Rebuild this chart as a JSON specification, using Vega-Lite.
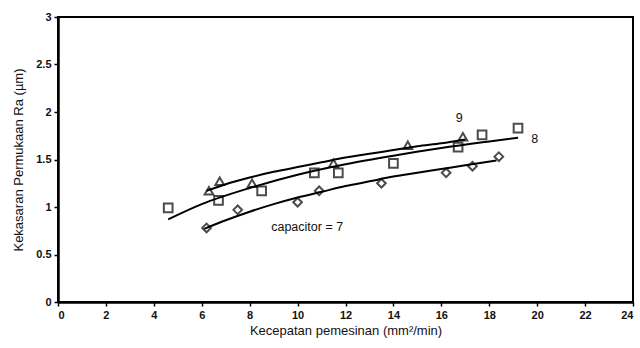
{
  "$schema": "https://vega.github.io/schema/vega-lite/v6.json",
  "width": 575,
  "height": 285,
  "autosize": {"type": "none"},
  "padding": {"left": 58, "top": 17, "right": 7, "bottom": 46},
  "background": "white",
  "config": {
    "view": {"stroke": "black", "strokeWidth": 2},
    "font": "Liberation Sans",
    "axis": {
      "grid": false,
      "domainColor": "black",
      "domainWidth": 2.5,
      "tickColor": "black",
      "tickWidth": 1.5,
      "tickSize": 4,
      "labelFont": "Liberation Sans",
      "labelFontSize": 11,
      "labelFontWeight": "bold",
      "labelColor": "#111",
      "titleFont": "Liberation Sans",
      "titleFontSize": 13,
      "titleFontWeight": "normal",
      "titleColor": "#111"
    }
  },
  "datasets": {
    "pts": [
      {"x": 6.3, "y": 1.17, "cap": "9"},
      {"x": 6.75, "y": 1.27, "cap": "9"},
      {"x": 8.1, "y": 1.25, "cap": "9"},
      {"x": 11.5, "y": 1.46, "cap": "9"},
      {"x": 14.6, "y": 1.65, "cap": "9"},
      {"x": 16.9, "y": 1.74, "cap": "9"},
      {"x": 4.6, "y": 0.99, "cap": "8"},
      {"x": 6.7, "y": 1.07, "cap": "8"},
      {"x": 8.5, "y": 1.17, "cap": "8"},
      {"x": 10.7, "y": 1.36, "cap": "8"},
      {"x": 11.7, "y": 1.36, "cap": "8"},
      {"x": 14.0, "y": 1.46, "cap": "8"},
      {"x": 16.7, "y": 1.63, "cap": "8"},
      {"x": 17.7, "y": 1.76, "cap": "8"},
      {"x": 19.2, "y": 1.83, "cap": "8"},
      {"x": 6.2, "y": 0.78, "cap": "7"},
      {"x": 7.5, "y": 0.97, "cap": "7"},
      {"x": 10.0, "y": 1.05, "cap": "7"},
      {"x": 10.9, "y": 1.17, "cap": "7"},
      {"x": 13.5, "y": 1.25, "cap": "7"},
      {"x": 16.2, "y": 1.36, "cap": "7"},
      {"x": 17.3, "y": 1.43, "cap": "7"},
      {"x": 18.4, "y": 1.53, "cap": "7"}
    ],
    "fits": [
      {"x": 6.2, "y": 1.17, "cap": "9"},
      {"x": 7, "y": 1.24, "cap": "9"},
      {"x": 8, "y": 1.31, "cap": "9"},
      {"x": 9, "y": 1.37, "cap": "9"},
      {"x": 10, "y": 1.42, "cap": "9"},
      {"x": 11, "y": 1.47, "cap": "9"},
      {"x": 12, "y": 1.52, "cap": "9"},
      {"x": 13, "y": 1.56, "cap": "9"},
      {"x": 14, "y": 1.6, "cap": "9"},
      {"x": 15, "y": 1.64, "cap": "9"},
      {"x": 16, "y": 1.67, "cap": "9"},
      {"x": 17, "y": 1.71, "cap": "9"},
      {"x": 4.6, "y": 0.87, "cap": "8"},
      {"x": 6, "y": 1.03, "cap": "8"},
      {"x": 8, "y": 1.2, "cap": "8"},
      {"x": 10, "y": 1.34, "cap": "8"},
      {"x": 12, "y": 1.45, "cap": "8"},
      {"x": 14, "y": 1.54, "cap": "8"},
      {"x": 16, "y": 1.62, "cap": "8"},
      {"x": 18, "y": 1.69, "cap": "8"},
      {"x": 19.2, "y": 1.73, "cap": "8"},
      {"x": 6.1, "y": 0.77, "cap": "7"},
      {"x": 7, "y": 0.86, "cap": "7"},
      {"x": 8, "y": 0.95, "cap": "7"},
      {"x": 9, "y": 1.03, "cap": "7"},
      {"x": 10, "y": 1.1, "cap": "7"},
      {"x": 11, "y": 1.16, "cap": "7"},
      {"x": 12, "y": 1.22, "cap": "7"},
      {"x": 13, "y": 1.27, "cap": "7"},
      {"x": 14, "y": 1.32, "cap": "7"},
      {"x": 15, "y": 1.36, "cap": "7"},
      {"x": 16, "y": 1.4, "cap": "7"},
      {"x": 17, "y": 1.44, "cap": "7"},
      {"x": 18.3, "y": 1.49, "cap": "7"}
    ],
    "labels": [
      {"x": 16.75, "y": 1.94, "text": "9"},
      {"x": 19.9, "y": 1.72, "text": "8"},
      {"x": 10.4, "y": 0.79, "text": "capacitor = 7"}
    ]
  },
  "layer": [
    {
      "data": {"name": "fits"},
      "mark": {"type": "line", "color": "black", "strokeWidth": 2, "interpolate": "monotone"},
      "encoding": {
        "x": {"field": "x", "type": "quantitative", "scale": {"domain": [0, 24], "nice": false},
              "axis": {"values": [0,2,4,6,8,10,12,14,16,18,20,22,24], "title": "Kecepatan pemesinan (mm²/min)", "labelPadding": 3, "titlePadding": 4}},
        "y": {"field": "y", "type": "quantitative", "scale": {"domain": [0, 3], "nice": false},
              "axis": {"values": [0,0.5,1,1.5,2,2.5,3], "format": "~g", "title": "Kekasaran Permukaan Ra (µm)", "labelPadding": 3, "titlePadding": 10}},
        "detail": {"field": "cap"}
      }
    },
    {
      "data": {"name": "pts"},
      "mark": {"type": "point", "filled": false, "color": "black", "strokeWidth": 2, "size": 75},
      "encoding": {
        "x": {"field": "x", "type": "quantitative"},
        "y": {"field": "y", "type": "quantitative"},
        "shape": {"field": "cap", "type": "nominal",
                  "scale": {"domain": ["9", "8", "7"], "range": ["triangle-up", "square", "diamond"]},
                  "legend": null}
      }
    },
    {
      "data": {"name": "labels"},
      "mark": {"type": "text", "color": "#111", "fontSize": 12.5, "font": "Liberation Sans", "align": "center", "baseline": "middle"},
      "encoding": {
        "x": {"field": "x", "type": "quantitative"},
        "y": {"field": "y", "type": "quantitative"},
        "text": {"field": "text"}
      }
    }
  ]
}
